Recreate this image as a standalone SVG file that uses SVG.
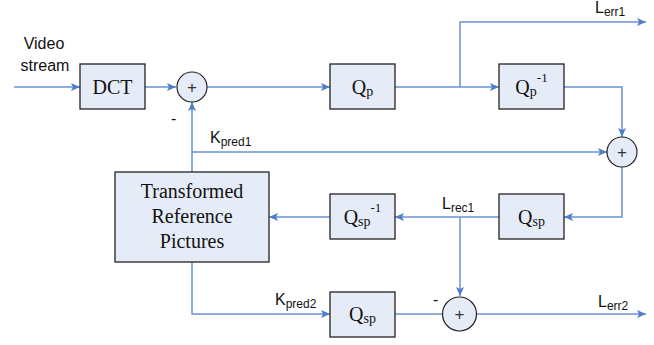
<svg xmlns="http://www.w3.org/2000/svg" width="654" height="345" viewBox="0 0 654 345">
<defs>
<marker id="arr" markerUnits="userSpaceOnUse" markerWidth="10" markerHeight="8" refX="9" refY="4" orient="auto">
<path d="M0,0 L9,4 L0,8 L2,4 z" fill="#4F7FC8"/>
</marker>
<style>
.box{fill:#E6ECF7;stroke:#222;stroke-width:1.3}
.sum{fill:#E6ECF7;stroke:#222;stroke-width:1.2}
.ln{fill:none;stroke:#6A93D2;stroke-width:1.5}
.a{marker-end:url(#arr)}
.tr{font-family:"Liberation Serif",serif;font-size:20px;fill:#111;text-anchor:middle}
.sa{font-family:"Liberation Sans",Arial,sans-serif;font-size:16px;fill:#111}
.sub{font-size:12px}
.pl{font-family:"Liberation Sans",Arial,sans-serif;font-size:17px;fill:#333;text-anchor:middle}
</style>
</defs>
<g id="connectors">
<path class="ln a" d="M14,87 H80"/>
<path class="ln a" d="M145,87 H176"/>
<path class="ln a" d="M207,87 H330"/>
<path class="ln a" d="M395,87 H499"/>
<path class="ln a" d="M460,87 V22 H646"/>
<path class="ln a" d="M564,87 H622 V137"/>
<path class="ln a" d="M192,172 V102"/>
<path class="ln a" d="M192,152 H607"/>
<path class="ln a" d="M622,167 V217 H564"/>
<path class="ln a" d="M499,217 H395"/>
<path class="ln a" d="M330,217 H269"/>
<path class="ln a" d="M460,217 V296"/>
<path class="ln a" d="M192,262 V314 H330"/>
<path class="ln" d="M395,314 H442"/>
<path class="ln a" d="M477,314 H646"/>
</g>
<g id="labels">
<text class="sa" x="44" y="49" text-anchor="middle" font-size="17">Video</text>
<text class="sa" x="45" y="71" text-anchor="middle" font-size="17">stream</text>
<text class="sa" x="595" y="13">L<tspan class="sub" dy="3">err1</tspan></text>
<text class="sa" x="210" y="143">K<tspan class="sub" dy="3">pred1</tspan></text>
<text class="sa" x="442" y="209">L<tspan class="sub" dy="3">rec1</tspan></text>
<text class="sa" x="275" y="305">K<tspan class="sub" dy="3">pred2</tspan></text>
<text class="sa" x="598" y="307">L<tspan class="sub" dy="3">err2</tspan></text>
<text class="sa" x="171" y="124">-</text>
<text class="sa" x="433" y="305">-</text>
</g>
<g id="dct"><rect class="box" x="80" y="64" width="65" height="45"/><text class="tr" x="112.5" y="94">DCT</text></g>
<g id="sum1"><circle class="sum" cx="192" cy="87" r="15"/><text class="pl" x="192" y="93">+</text></g>
<g id="qp"><rect class="box" x="330" y="64" width="65" height="45"/><text class="tr" x="362.5" y="94">Q<tspan font-size="14" dy="2">p</tspan></text></g>
<g id="qpinv"><rect class="box" x="499" y="64" width="65" height="45"/><text class="tr" x="531.5" y="94">Q<tspan font-size="14" dy="2">p</tspan><tspan font-size="13" dy="-14">-1</tspan></text></g>
<g id="sum2"><circle class="sum" cx="622" cy="152" r="15"/><text class="pl" x="622" y="158">+</text></g>
<g id="trp"><rect class="box" x="115" y="172" width="154" height="90"/>
<text class="tr" x="192" y="198">Transformed</text>
<text class="tr" x="192" y="223">Reference</text>
<text class="tr" x="192" y="248">Pictures</text></g>
<g id="qspinv"><rect class="box" x="330" y="194" width="65" height="45"/><text class="tr" x="362.5" y="224">Q<tspan font-size="14" dy="2">sp</tspan><tspan font-size="13" dy="-14">-1</tspan></text></g>
<g id="qsp1"><rect class="box" x="499" y="194" width="65" height="45"/><text class="tr" x="531.5" y="224">Q<tspan font-size="14" dy="2">sp</tspan></text></g>
<g id="qsp2"><rect class="box" x="330" y="292" width="65" height="45"/><text class="tr" x="362.5" y="321">Q<tspan font-size="14" dy="2">sp</tspan></text></g>
<g id="sum3"><circle class="sum" cx="459.5" cy="314" r="17"/><text class="pl" x="459.5" y="320">+</text></g>
</svg>
